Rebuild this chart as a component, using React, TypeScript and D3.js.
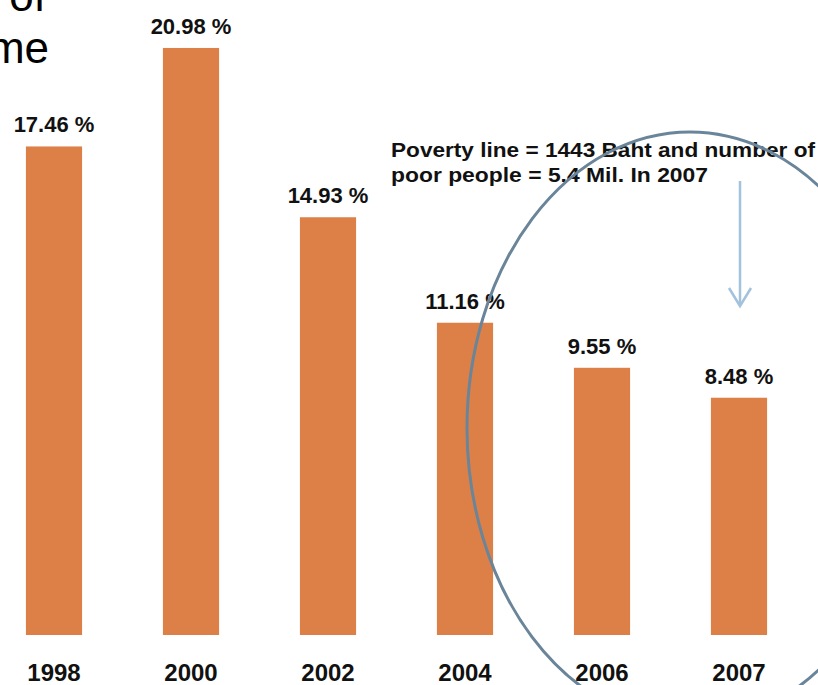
import React, { useEffect, useRef } from "react";
import * as d3 from "d3";

const years = ["1998", "2000", "2002", "2004", "2006", "2007"];
const povertyRates = [17.46, 20.98, 14.93, 11.16, 9.55, 8.48];
const titleLines = ["y of", "me"];
const noteLines = [
  "Poverty line = 1443 Baht and number of",
  "poor people = 5.4 Mil. In 2007",
];

const W = 818;
const H = 685;
const FONT = "'Liberation Sans', Arial, sans-serif";

const App: React.FC = () => {
  const svgRef = useRef<SVGSVGElement>(null);

  useEffect(() => {
    const svg = d3.select(svgRef.current);
    svg.selectAll("*").remove();

    // scales: bars sit on y=635, tallest bar top ~48
    const x = d3
      .scaleBand<string>()
      .domain(years)
      .range([-14.5, 807.5])
      .paddingInner(0.59)
      .paddingOuter(0.295);
    const y = d3.scaleLinear().domain([0, 21]).range([635, 47.4]);

    // cut-off title text in the corner
    svg
      .selectAll(".title")
      .data(titleLines)
      .join("text")
      .attr("class", "title")
      .attr("x", (_, i) => (i === 0 ? 46 : 49))
      .attr("y", (_, i) => 11 + i * 52)
      .attr("text-anchor", "end")
      .style("font-family", FONT)
      .style("font-size", "44px")
      .style("fill", "#000")
      .text((d) => d);

    // bars
    svg
      .selectAll(".bar")
      .data(povertyRates)
      .join("rect")
      .attr("class", "bar")
      .attr("x", (_, i) => x(years[i])!)
      .attr("y", (d) => y(d))
      .attr("width", x.bandwidth())
      .attr("height", (d) => y(0) - y(d))
      .style("fill", "#dd8048");

    // value labels
    svg
      .selectAll(".val")
      .data(povertyRates)
      .join("text")
      .attr("class", "val")
      .attr("x", (_, i) => x(years[i])! + x.bandwidth() / 2)
      .attr("y", (d) => y(d) - 14)
      .attr("text-anchor", "middle")
      .style("font-family", FONT)
      .style("font-weight", "bold")
      .style("font-size", "22px")
      .style("fill", "#111")
      .text((d) => `${d.toFixed(2)} %`);

    // year axis
    const xAxis = d3.axisBottom(x).tickSize(0).tickPadding(29);
    const gx = svg
      .append("g")
      .attr("transform", `translate(0,${y(0)})`)
      .call(xAxis);
    gx.select(".domain").remove();
    gx.selectAll("text")
      .style("font-family", FONT)
      .style("font-weight", "bold")
      .style("font-size", "24px")
      .style("fill", "#111");

    // annotation
    svg
      .selectAll(".note")
      .data(noteLines)
      .join("text")
      .attr("class", "note")
      .attr("x", 391)
      .attr("y", (_, i) => 157 + i * 25)
      .attr("textLength", (_, i) => (i === 0 ? 424 : 317))
      .attr("lengthAdjust", "spacingAndGlyphs")
      .style("font-family", FONT)
      .style("font-weight", "bold")
      .style("font-size", "21px")
      .style("fill", "#111")
      .text((d) => d);

    // ellipse around the last years
    svg
      .append("ellipse")
      .attr("cx", 690)
      .attr("cy", 428)
      .attr("rx", 223)
      .attr("ry", 296)
      .style("fill", "none")
      .style("stroke", "#6a8599")
      .style("stroke-width", 3);

    // arrow pointing at 2007
    const ax = x("2007")! + x.bandwidth() / 2 + 1;
    const tipY = 306;
    svg
      .append("line")
      .attr("x1", ax)
      .attr("x2", ax)
      .attr("y1", 181)
      .attr("y2", tipY)
      .style("stroke", "#a3c2dc")
      .style("stroke-width", 2.5);
    svg
      .append("path")
      .attr("d", d3.line()([[ax - 11, tipY - 18], [ax, tipY], [ax + 11, tipY - 18]]))
      .style("fill", "none")
      .style("stroke", "#a3c2dc")
      .style("stroke-width", 2.5);

    return () => {
      svg.selectAll("*").remove();
    };
  }, []);

  return (
    <svg
      ref={svgRef}
      width={W}
      height={H}
      style={{ position: "absolute", left: 0, top: 0, background: "#fff" }}
    />
  );
};

export default App;
